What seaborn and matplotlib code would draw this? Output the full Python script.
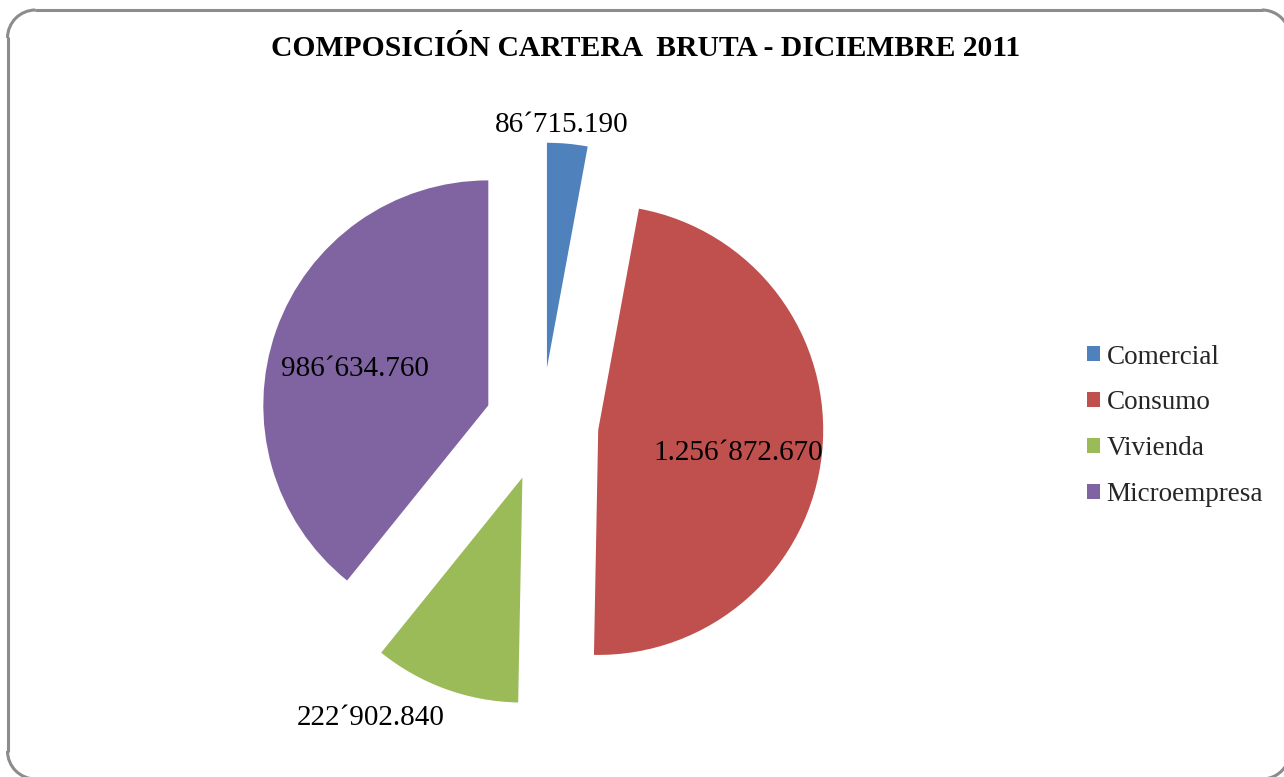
import numpy as np
import matplotlib
matplotlib.use("Agg")
import matplotlib.pyplot as plt
import seaborn as sns
from matplotlib.patches import Arc
from matplotlib.lines import Line2D
from matplotlib.transforms import IdentityTransform, ScaledTranslation

# ---- data (wedge shares, in %) ----
categories = ["Comercial", "Consumo", "Vivienda", "Microempresa"]
shares = [2.9, 47.4, 10.5, 39.2]
value_labels = ["86´715.190", "1.256´872.670", "222´902.840", "986´634.760"]
colors = ["#4F81BD", "#C0504D", "#9BBB59", "#8064A2"]
title = "COMPOSICIÓN CARTERA  BRUTA - DICIEMBRE 2011"

# label placement (distance from exploded wedge tip, angle nudge in degrees)
label_dist = [1.094, 0.631, 1.254, 0.619]
label_dang = [1.75, -2.6, -12.45, 3.25]

sns.set_theme(style="white")
plt.rcParams['font.family'] = ['Liberation Serif', 'DejaVu Serif']

fig = plt.figure(figsize=(12.84, 7.77), dpi=100)
fig.patch.set_facecolor("white")

# rounded border (pixel coordinates, partly running off the right/bottom edges)
bc, blw = "#8c8c8c", 2.2
L, R, B, T, rad = 7.5, 1290.0, -2.0, 767.0, 28.0
idt = IdentityTransform()
for xs, ys in [([L + rad, R - rad], [T, T]), ([L, L], [B + rad, T - rad])]:
    fig.add_artist(Line2D(xs, ys, transform=idt, color=bc, lw=blw))
for (cx, cy, a0, a1) in [(L + rad, T - rad, 90, 180), (L + rad, B + rad, 180, 270),
                         (R - rad, T - rad, 30, 90), (R - rad, B + rad, 270, 330)]:
    fig.add_artist(Arc((cx, cy), 2 * rad, 2 * rad, theta1=a0, theta2=a1,
                       transform=idt, color=bc, lw=blw))

ax = fig.add_axes([0.1766, 0.0486, 0.4907, 0.8108])
pal = sns.color_palette(colors)
wedges, _ = ax.pie(shares, colors=pal, startangle=90, counterclock=False,
                   explode=[0.252] * len(shares), wedgeprops=dict(linewidth=0))
ax.set_xlim(-1.4, 1.4)
ax.set_ylim(-1.4, 1.4)
ax.set_axis_off()

shift = ax.transData + ScaledTranslation(0, -2.5 / 100, fig.dpi_scale_trans)
for w, lab, d, da in zip(wedges, value_labels, label_dist, label_dang):
    mid = np.deg2rad((w.theta1 + w.theta2) / 2 + da)
    cx, cy = w.center
    ax.text(cx + d * np.cos(mid), cy + d * np.sin(mid), lab, transform=shift,
            ha="center", va="center", fontsize=21, color="black")

fig.text(0.503, 0.937, title, ha="center", va="center", fontsize=21.3,
         fontweight="bold", color="black")

fig.legend(wedges, categories, loc="center left", bbox_to_anchor=(1087 / 1284, 0.452),
           frameon=False, fontsize=19.5, handlelength=0.48, handleheight=0.48,
           handletextpad=0.25, labelspacing=0.77, borderpad=0, borderaxespad=0)

fig.savefig("out.png", dpi=100, facecolor="white")
